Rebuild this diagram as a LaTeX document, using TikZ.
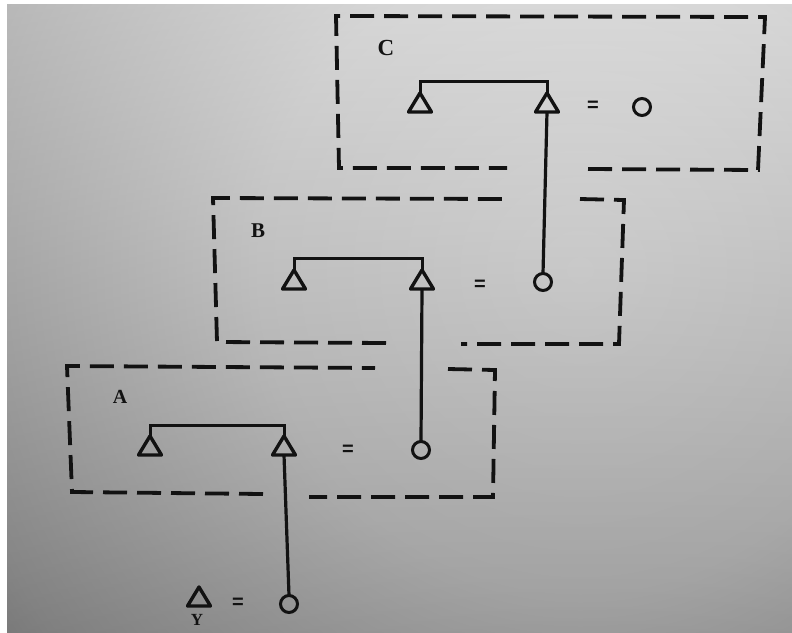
\documentclass[tikz,border=0pt]{standalone}
\usepackage{fontspec}
\setmainfont{Liberation Serif}
\newfontfamily\eqfont{Liberation Sans}
\usetikzlibrary{shapes.geometric}

\definecolor{ink}{HTML}{121212}
\definecolor{bgA}{HTML}{D8D8D8}
\definecolor{bgB}{HTML}{CCCCCC}
\definecolor{bgC}{HTML}{A4A4A4}
\definecolor{bgD}{HTML}{505050}
\pgfdeclareradialshading{vignette}{\pgfpoint{0bp}{0bp}}{%
  color(0bp)=(bgA); color(8bp)=(bgB); color(16bp)=(bgC); color(27bp)=(bgD); color(50bp)=(bgD)}

\tikzset{
  frame/.style={draw=ink, line width=3.8pt, dash pattern=on 24pt off 10pt, line join=miter},
  tri/.style={draw=ink, line width=3.4pt, isosceles triangle, shape border rotate=90,
    isosceles triangle stretches, minimum width=23pt, minimum height=19pt,
    inner sep=0pt, outer sep=0pt, anchor=south, line join=round},
  ring/.style={draw=ink, line width=3pt, circle, minimum size=17pt, inner sep=0pt, outer sep=0pt},
  link/.style={draw=ink, line width=3.2pt},
  bracket/.style={draw=ink, line width=3pt},
  eq/.style={text=ink, font=\eqfont\bfseries\fontsize{20}{20}\selectfont, inner sep=0pt},
  tag/.style={text=ink, font=\bfseries, inner sep=0pt}
}

\begin{document}
\begin{tikzpicture}[x=1pt, y=-1pt]
  % paper: white margin strips and a vignetted grey sheet
  \useasboundingbox (0,0) rectangle (792,632);
  \fill[white] (0,0) rectangle (792,632);
  \begin{scope}
    \clip (7,4) rectangle (792,632);
    \shade[shading=vignette] (580-1000,270-1000) rectangle (580+1000,270+1000);
    \shade[top color=white, bottom color=black, opacity=0.22] (0,0) rectangle (792,632);
  \end{scope}

  % ---- frame C ----
  \draw[frame] (588,169) -- (758,170) -- (765,17) -- (336,16) -- (339,168) -- (507,168);
  \node[tag, font=\bfseries\fontsize{23}{23}\selectfont] (labC) at (386,48) {C};
  \node[tri] (c1) at (420,112) {};
  \node[tri] (c2) at (547,112) {};
  \node[eq] (eqC) at (593,106) {=};
  \node[ring] (oC) at (642,107) {};
  \draw[bracket] (c1.apex) -- ++(0,-12) -| (c2.apex);

  % ---- frame B ----
  \draw[frame] (580,199) -- (624,200) -- (619,344) -- (461,344);
  \draw[frame] (386,343) -- (217,342) -- (213,198) -- (502,199);
  \node[tag, font=\bfseries\fontsize{21}{21}\selectfont] (labB) at (258,231) {B};
  \node[tri] (b1) at (294,289) {};
  \node[tri] (b2) at (422,289) {};
  \node[eq] (eqB) at (480,285) {=};
  \node[ring] (oB) at (543,282) {};
  \draw[bracket] (b1.apex) -- ++(0,-12) -| (b2.apex);

  % ---- frame A ----
  \draw[frame] (448,369) -- (495,370) -- (493,497) -- (309,497);
  \draw[frame] (263,494) -- (72,492) -- (67,366) -- (375,368);
  \node[tag, font=\bfseries\fontsize{20}{20}\selectfont] (labA) at (120,397) {A};
  \node[tri] (a1) at (150,455) {};
  \node[tri] (a2) at (284,455) {};
  \node[eq] (eqA) at (348,450) {=};
  \node[ring] (oA) at (421,450) {};
  \draw[bracket] (a1.apex) -- ++(0,-11) -| (a2.apex);

  % ---- outside: Y ----
  \node[tri] (y1) at (199,606) {};
  \node[tag, font=\bfseries\fontsize{17}{17}\selectfont] (labY) at (197,620) {Y};
  \node[eq] (eqY) at (238,603) {=};
  \node[ring] (oY) at (289,604) {};

  % ---- links between frames ----
  \draw[link] (c2.south) -- (oB.north);
  \draw[link] (b2.south) -- (oA.north);
  \draw[link] (a2.south) -- (oY.north);
\end{tikzpicture}
\end{document}
